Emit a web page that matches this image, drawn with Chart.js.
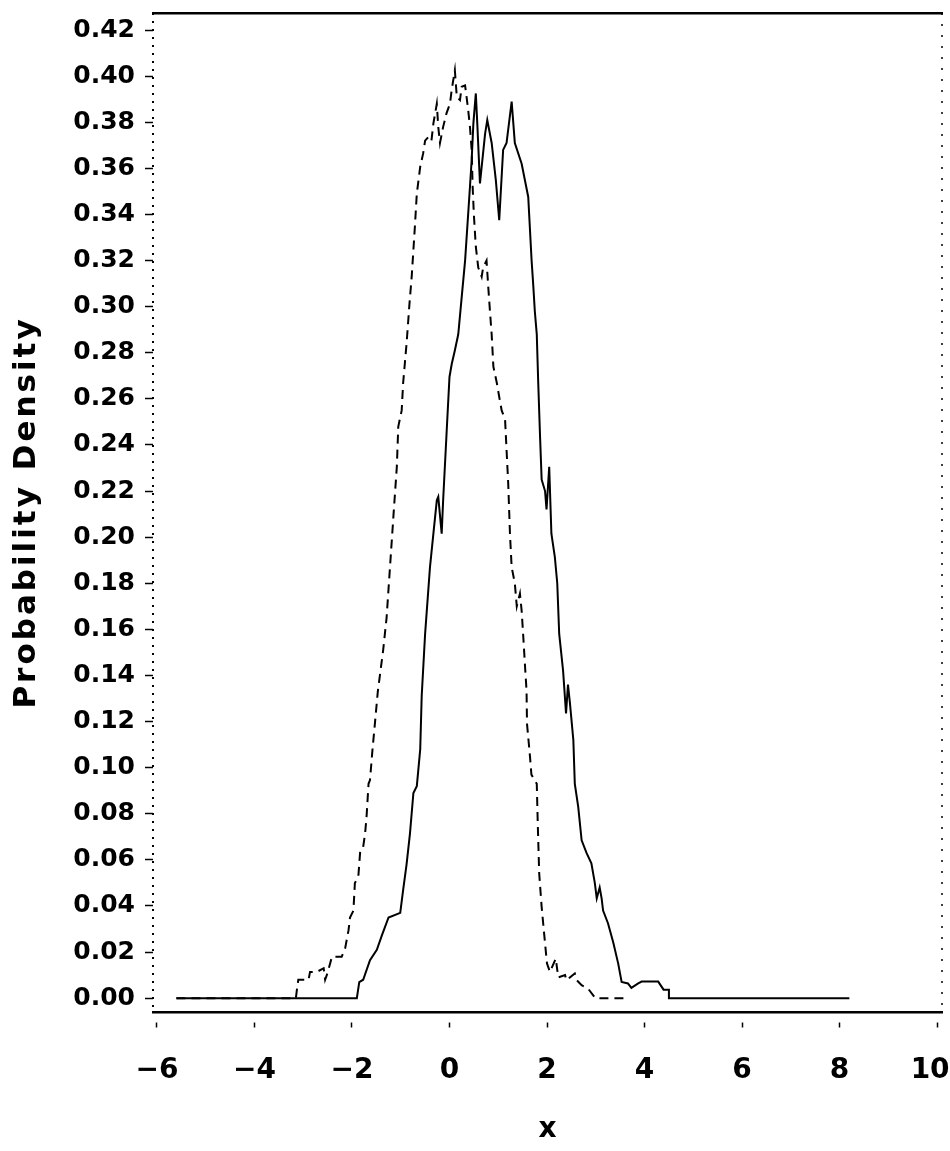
<!DOCTYPE html>
<html>
<head>
<meta charset="utf-8">
<script src="https://cdn.jsdelivr.net/npm/chart.js@4"></script>
<style>
  html, body { margin: 0; padding: 0; background: #fff; }
  canvas { display: block; }
</style>
</head>
<body>
<canvas id="density" width="950" height="1151"></canvas>
<script>
// ---- data: two density estimates ----
const solidX = [-5.6, -1.90, -1.85, -1.77, -1.63, -1.49, -1.39, -1.25, -1.01, -0.95, -0.88, -0.81, -0.74, -0.67, -0.60,
  -0.57, -0.50, -0.40, -0.33, -0.26, -0.23, -0.16, -0.13, -0.06, 0.00, 0.045, 0.11, 0.18, 0.23, 0.32, 0.42, 0.455,
  0.49, 0.54, 0.57, 0.625, 0.73, 0.775, 0.865, 0.95, 1.02, 1.10, 1.17, 1.275, 1.34, 1.48, 1.615, 1.684, 1.72, 1.75,
  1.79, 1.82, 1.855, 1.89, 1.96, 1.99, 2.045, 2.09, 2.16, 2.21, 2.25, 2.33, 2.39, 2.43, 2.47, 2.54, 2.57, 2.64, 2.71,
  2.81, 2.91, 2.98, 3.02, 3.08, 3.12, 3.15, 3.25, 3.36, 3.46, 3.53, 3.66, 3.73, 3.87, 3.94, 4.28, 4.39, 4.50, 4.50, 8.2];
const solidY = [0, 0, 0.007, 0.008, 0.0165, 0.021, 0.027, 0.035, 0.037, 0.047, 0.058, 0.0715, 0.089, 0.092, 0.108,
  0.131, 0.158, 0.187, 0.2015, 0.216, 0.2175, 0.2015, 0.216, 0.245, 0.2695, 0.275, 0.281, 0.288, 0.2995, 0.320, 0.352, 0.3636,
  0.3795, 0.3925, 0.3795, 0.3535, 0.375, 0.381, 0.371, 0.355, 0.3375, 0.368, 0.371, 0.389, 0.371, 0.362, 0.3476, 0.320, 0.3086, 0.298,
  0.288, 0.267, 0.245, 0.225, 0.220, 0.212, 0.2305, 0.2015, 0.1915, 0.180, 0.158, 0.142, 0.1235, 0.136, 0.128, 0.112, 0.093, 0.083, 0.0685,
  0.063, 0.0585, 0.050, 0.0433, 0.048, 0.0433, 0.038, 0.0325, 0.024, 0.015, 0.007, 0.0064, 0.0045, 0.0064, 0.0072, 0.0072, 0.0037, 0.0037, 0, 0];

const dashedX = [-5.6, -3.15, -3.13, -3.10, -2.89, -2.86, -2.72, -2.58, -2.55, -2.50, -2.41, -2.21, -2.14, -2.07, -2.04,
  -1.97, -1.94, -1.87, -1.83, -1.77, -1.73, -1.70, -1.66, -1.63, -1.58, -1.53, -1.47, -1.36, -1.29, -1.22, -1.15, -1.08,
  -1.05, -0.98, -0.95, -0.88, -0.82, -0.775, -0.71, -0.67, -0.60, -0.54, -0.50, -0.43, -0.37, -0.33, -0.26, -0.23, -0.195,
  -0.13, -0.06, 0.01, 0.045, 0.11, 0.15, 0.215, 0.25, 0.32, 0.35, 0.385, 0.42, 0.455, 0.475, 0.50, 0.54, 0.59, 0.66, 0.69,
  0.76, 0.795, 0.83, 0.865, 0.90, 0.97, 1.035, 1.07, 1.14, 1.17, 1.205, 1.24, 1.275, 1.34, 1.38, 1.445, 1.48, 1.51, 1.55,
  1.58, 1.59, 1.65, 1.68, 1.79, 1.81, 1.84, 1.89, 1.96, 2.00, 2.06, 2.18, 2.23, 2.37, 2.40, 2.57, 2.61, 2.71, 2.84, 2.99, 3.62];
const dashedY = [0, 0, 0.0035, 0.008, 0.008, 0.0114, 0.0114, 0.013, 0.008, 0.011, 0.018, 0.018, 0.0216, 0.0295, 0.035,
  0.038, 0.050, 0.0526, 0.064, 0.0656, 0.0715, 0.079, 0.093, 0.0946, 0.1076, 0.119, 0.133, 0.151, 0.165, 0.187, 0.209, 0.2305,
  0.248, 0.255, 0.267, 0.284, 0.3014, 0.313, 0.3346, 0.349, 0.3607, 0.3665, 0.372, 0.3737, 0.372, 0.3795, 0.388, 0.378, 0.371,
  0.378, 0.384, 0.388, 0.394, 0.4026, 0.391, 0.3896, 0.3954, 0.396, 0.391, 0.385, 0.378, 0.368, 0.352, 0.340, 0.326, 0.317, 0.313, 0.317,
  0.320, 0.3086, 0.298, 0.288, 0.274, 0.267, 0.259, 0.255, 0.251, 0.238, 0.223, 0.2015, 0.187, 0.180, 0.170, 0.1755, 0.168, 0.158, 0.1437,
  0.1336, 0.119, 0.105, 0.097, 0.093, 0.076, 0.054, 0.0396, 0.0237, 0.015, 0.0114, 0.0172, 0.009, 0.010, 0.0078, 0.0107, 0.0078, 0.0056, 0.0042, 0, 0];

// tick positions
const xTicks = [-6, -4, -2, 0, 2, 4, 6, 8, 10];
const yTicks = [0, 0.02, 0.04, 0.06, 0.08, 0.10, 0.12, 0.14, 0.16, 0.18, 0.20,
  0.22, 0.24, 0.26, 0.28, 0.30, 0.32, 0.34, 0.36, 0.38, 0.40, 0.42];

const toPoints = (xs, ys) => xs.map((x, i) => ({ x: x, y: ys[i] }));

const FONT = 'DejaVu Sans';
const ink = '#000';

// dotted left/right frame edges (scale borders can't be dashed)
const dottedFrame = {
  id: 'dottedFrame',
  beforeDatasetsDraw(chart) {
    const { ctx, chartArea: a } = chart;
    ctx.save();
    ctx.strokeStyle = ink;
    ctx.setLineDash([2, 6]);
    ctx.lineWidth = 2;
    ctx.beginPath();
    ctx.moveTo(a.left, a.top);
    ctx.lineTo(a.left, a.bottom);
    ctx.stroke();
    ctx.lineWidth = 1.5;
    ctx.setLineDash([2, 9]);
    ctx.beginPath();
    ctx.moveTo(a.right, a.top);
    ctx.lineTo(a.right, a.bottom);
    ctx.stroke();
    ctx.restore();
  }
};

// a little extra letter spacing for the y-axis title
const spacedTitle = {
  id: 'spacedTitle',
  afterLayout(chart) {
    const y = chart.scales.y;
    if (y._spaced) return;
    const drawTitle = y.drawTitle.bind(y);
    y.drawTitle = function () {
      const c = this.ctx;
      const prev = c.letterSpacing;
      c.letterSpacing = '3px';
      drawTitle();
      c.letterSpacing = prev;
    };
    y._spaced = true;
  }
};

const ctx = document.getElementById('density').getContext('2d');
new Chart(ctx, {
  type: 'line',
  data: {
    datasets: [
      { data: toPoints(solidX, solidY), borderColor: ink, borderWidth: 2, pointRadius: 0, tension: 0, fill: false },
      { data: toPoints(dashedX, dashedY), borderColor: ink, borderWidth: 2, borderDash: [9, 6], pointRadius: 0, tension: 0, fill: false }
    ]
  },
  options: {
    responsive: false,
    animation: false,
    layout: { padding: { top: 13, right: 8, left: 0, bottom: 0 } },
    plugins: { legend: { display: false }, tooltip: { enabled: false } },
    scales: {
      x: {
        type: 'linear', position: 'bottom', min: -6.08, max: 10.1,
        afterBuildTicks: s => { s.ticks = xTicks.map(v => ({ value: v })); },
        afterFit: s => { s.height = 139; s.paddingLeft = 0; s.paddingRight = 0; },
        grid: { drawOnChartArea: false, tickLength: 16, tickWidth: 1.5, tickColor: ink, tickBorderDash: [5, 100], tickBorderDashOffset: 96 },
        border: { color: ink, width: 2.5 },
        ticks: {
          color: ink, padding: 26, maxRotation: 0,
          font: { family: FONT, size: 28, weight: 'bold' },
          // last label sits against the right edge, pad it so it stays inside
          callback: v => v < 0 ? '\u2212' + Math.abs(v) : (v === 10 ? '10\u2002' : String(v))
        },
        title: { display: true, text: 'x', color: ink, padding: { top: 14 }, font: { family: FONT, size: 28, weight: 'bold' } }
      },
      x2: {
        type: 'linear', position: 'top', min: -6.08, max: 10.1,
        afterFit: s => { s.height = 0; s.paddingLeft = 0; s.paddingRight = 0; },
        ticks: { display: false }, grid: { display: false },
        border: { color: ink, width: 2.5 }
      },
      y: {
        type: 'linear', position: 'left', min: -0.006, max: 0.4274,
        afterBuildTicks: s => { s.ticks = yTicks.map(v => ({ value: v })); },
        afterFit: s => { s.width = 153; s.paddingTop = 0; s.paddingBottom = 0; },
        grid: { drawOnChartArea: false, tickLength: 8, tickWidth: 1.5, tickColor: ink },
        border: { display: false },
        ticks: {
          color: ink, padding: 10,
          font: { family: FONT, size: 25, weight: 'bold' },
          callback: v => v.toFixed(2)
        },
        title: { display: true, text: 'Probability Density', color: ink, padding: { top: 8 }, font: { family: FONT, size: 31, weight: 'bold' } }
      }
    }
  },
  plugins: [dottedFrame, spacedTitle]
});
</script>
</body>
</html>
